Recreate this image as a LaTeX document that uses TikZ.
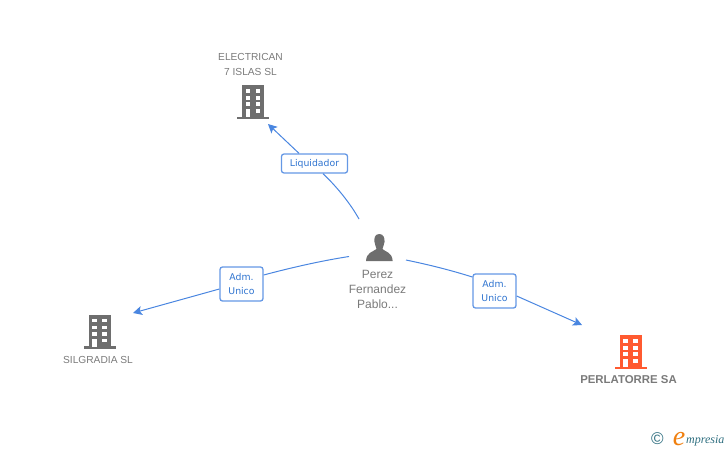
\documentclass[tikz,border=0pt]{standalone}
\usepackage{fontspec}
\setmainfont{Liberation Sans}
\newfontfamily\rolefont{DejaVu Sans}
\newfontfamily\logofont{Liberation Serif}
\usetikzlibrary{arrows.meta}
\definecolor{linkblue}{HTML}{4A86E0}
\definecolor{labelblue}{HTML}{2F74D0}
\definecolor{namegray}{HTML}{7A7A7A}
\definecolor{icongray}{HTML}{6E6E6E}
\definecolor{iconorange}{HTML}{FF5A30}
\definecolor{logoteal}{HTML}{2F6F80}
\definecolor{logoorange}{HTML}{F08010}
\tikzset{
  link/.style={linkblue,line width=1pt},
  linkarrow/.style={link,-{Stealth[length=9pt,width=9pt,inset=2pt]}},
  rolebox/.style={draw=linkblue!85,line width=1.3pt,rounded corners=2.5pt,fill=white,align=center,
    text=labelblue,font=\rolefont\fontsize{9.3}{14.5}\selectfont,inner sep=0pt},
  namelabel/.style={text=namegray,align=center,font=\fontsize{10.2}{15}\selectfont,inner sep=0pt},
  pics/building/.style={code={
    \fill[#1] (-11,-16) rectangle (11,16);
    \fill[#1] (-16,15.5) rectangle (16,18);
    % Draw the windows
    \foreach \y in {-12,-5,1.3}
    \foreach \x in {-7.7,2.4}
    {
    \fill[white] (\x,\y) rectangle (\x+4.6,\y+3.8);
    }
    \fill[white] (2.4,8) rectangle (7,11.8);
    \fill[white] (-7.7,8) rectangle (-3.1,16);
  }}
}
\begin{document}
\begin{tikzpicture}[x=1pt,y=-1pt]
\useasboundingbox (0,0) rectangle (728,450);
% Draw the companies
\pic at (253.3,101) {building=icongray};
\pic at (100,330.5) {building=icongray};
\pic at (631,351) {building=iconorange};
\node[namelabel] (electrican) at (250.5,64) {ELECTRICAN\\7 ISLAS SL};
\node[namelabel] (silgradia) at (98,360) {SILGRADIA SL};
\node[namelabel,font=\fontsize{11.4}{15}\selectfont\bfseries] (perlatorre) at (628.5,379.5) {PERLATORRE SA};
% Draw the person
\fill[icongray] (379.3,234) .. controls (375,234) and (373.8,238) .. (374.5,242)
  .. controls (375,245) and (376,247) .. (376.5,249) .. controls (373,252) and (366.5,252) .. (366,261)
  -- (392.7,261) .. controls (392,252) and (385.5,252) .. (382.5,249)
  .. controls (383,247) and (384,245) .. (384.5,242) .. controls (385,238) and (383.5,234) .. (379.3,234) -- cycle;
\node[namelabel,font=\fontsize{12}{15}\selectfont] (person) at (377.5,289.5) {Perez\\Fernandez\\Pablo...};
% Draw the role boxes
\node[rolebox,minimum width=66pt,minimum height=19pt] (liquidador) at (314.5,163.5) {Liquidador};
\node[rolebox,minimum width=43pt,minimum height=34pt] (admleft) at (241.5,284) {Adm.\\Unico};
\node[rolebox,minimum width=43pt,minimum height=34pt] (admright) at (494.5,291) {Adm.\\Unico};
% Draw the links
\coordinate (startup) at (359,219);
\coordinate (startleft) at (349,256.5);
\coordinate (startright) at (406,260);
\coordinate (endup) at (268,124);
\coordinate (endleft) at (133,313);
\coordinate (endright) at (582,325);
\draw[link] (startup) .. controls (350,203) and (337,187) .. (liquidador.south -| 323,0);
\draw[linkarrow] (liquidador.north -| 299,0) -- (endup);
\draw[link] (startleft) .. controls (320,261) and (290,268) .. (admleft.east |- 0,275);
\draw[linkarrow] (admleft.west |- 0,289) -- (endleft);
\draw[link] (startright) .. controls (430,265) and (450,270) .. (admright.west |- 0,277);
\draw[linkarrow] (admright.east |- 0,296) -- (endright);
% Draw the logo
\node[text=logoteal,font=\fontsize{17}{17}\selectfont,inner sep=0pt] (copyright) at (657.5,438.5) {©};
\node[text=logoorange,font=\logofont\fontsize{28}{28}\selectfont\itshape,inner sep=0pt,anchor=base] (logoe) at (679,445) {e};
\node[text=logoteal,font=\logofont\fontsize{12}{12}\selectfont\itshape,inner sep=0pt,anchor=base west] (logotext) at (686,443.5) {mpresia};
\end{tikzpicture}
\end{document}
